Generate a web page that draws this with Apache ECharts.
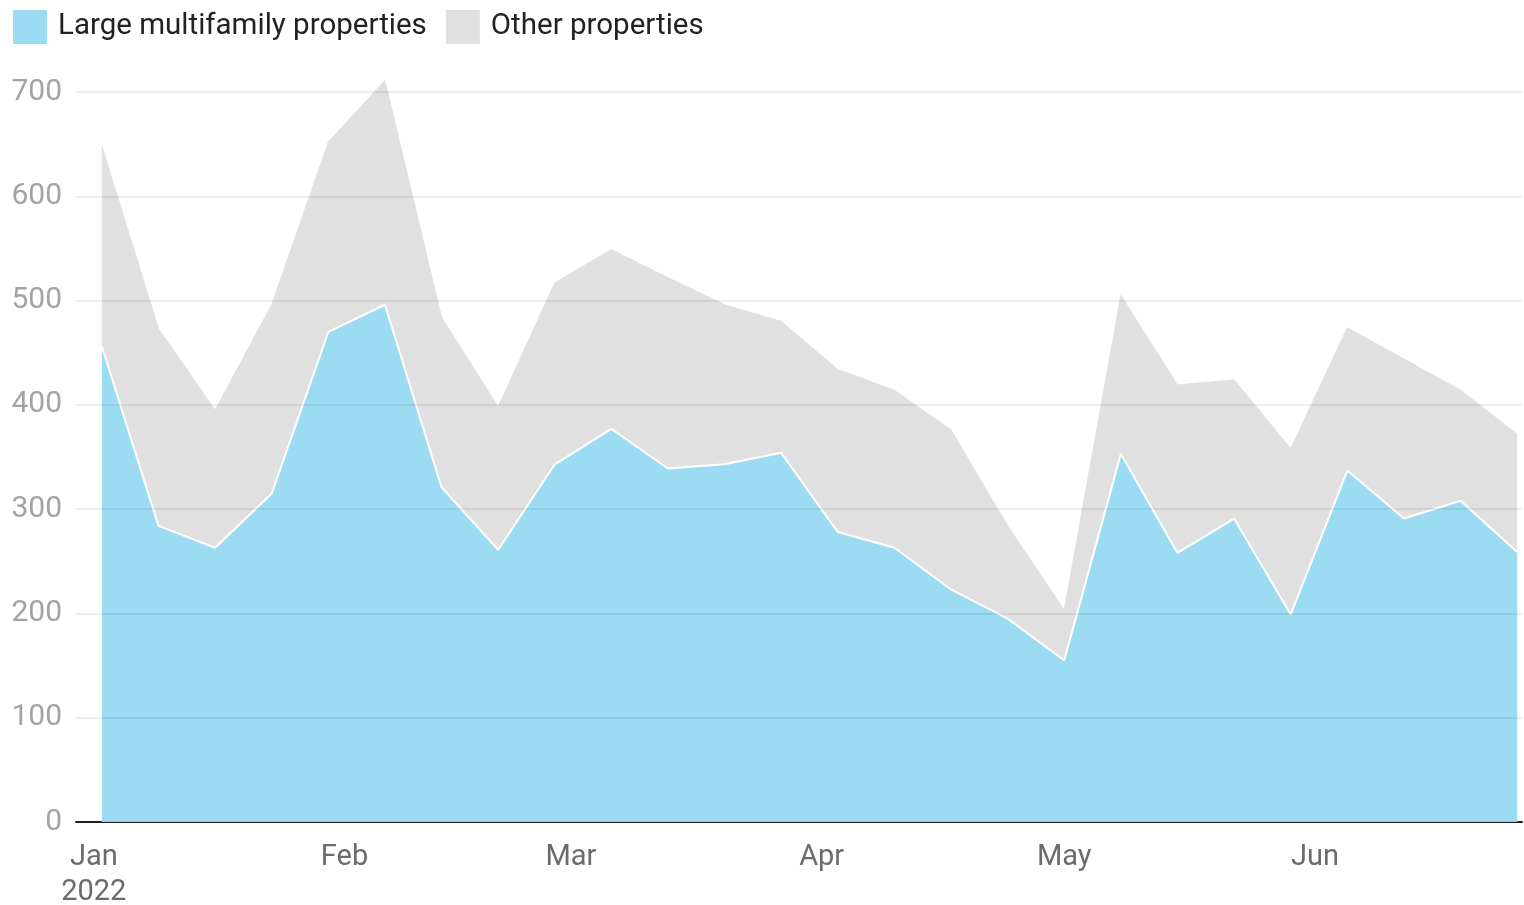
<!DOCTYPE html>
<html lang="en">
<head>
    <meta charset="UTF-8">
    <title>Multifamily properties</title>
    <script src="https://cdn.jsdelivr.net/npm/echarts@6/dist/echarts.min.js"></script>
    <style>
        html, body { margin: 0; padding: 0; background: #fff; }
        #chart { width: 1524px; height: 905px; }
    </style>
</head>
<body>
<div id="chart"></div>
<script>
    // weekly data, Jan - Jun 2022
    var weeks = ['2022-01-02', '2022-01-09', '2022-01-16', '2022-01-23', '2022-01-30',
        '2022-02-06', '2022-02-13', '2022-02-20', '2022-02-27', '2022-03-06',
        '2022-03-13', '2022-03-20', '2022-03-27', '2022-04-03', '2022-04-10',
        '2022-04-17', '2022-04-24', '2022-05-01', '2022-05-08', '2022-05-15',
        '2022-05-22', '2022-05-29', '2022-06-05', '2022-06-12', '2022-06-19', '2022-06-26'];
    var largeMultifamily = [456, 284, 263, 315, 470, 496, 321, 261, 343, 377,
        339, 343, 354, 278, 263, 223, 195, 155, 353, 258,
        291, 199, 337, 291, 308, 259];
    var otherProps = [192, 189, 132, 181, 182, 215, 163, 137, 174, 172,
        183, 153, 126, 156, 151, 153, 89, 48, 152, 161,
        133, 159, 137, 153, 106, 113];
    var monthStarts = ['2022-01-01', '2022-02-01', '2022-03-01', '2022-04-01', '2022-05-01', '2022-06-01'];
    var monthNames = ['Jan', 'Feb', 'Mar', 'Apr', 'May', 'Jun'];
    var yTicks = [0, 100, 200, 300, 400, 500, 600, 700];

    // days since Jan 1 2022
    function dayOf(s) {
        var p = s.split('-');
        return (Date.UTC(+p[0], +p[1] - 1, +p[2]) - Date.UTC(2022, 0, 1)) / 86400000;
    }
    var monthDays = monthStarts.map(dayOf);

    // stacked by hand: grey area goes from 0 to the total, blue sits on top of it
    var blueData = largeMultifamily.map(function (v, i) { return [dayOf(weeks[i]), v]; });
    var totalData = otherProps.map(function (v, i) { return [dayOf(weeks[i]), v + largeMultifamily[i]]; });

    var myChart = echarts.init(document.getElementById('chart'));
    var option = {
        animation: false,
        textStyle: { fontFamily: 'Roboto' },
        legend: {
            left: 13,
            top: 10,
            padding: 0,
            itemWidth: 34,
            itemHeight: 34,
            itemGap: 19,
            icon: 'rect',
            textStyle: { fontSize: 29.5, color: '#222', padding: [0, 0, 0, 6] },
            data: ['Large multifamily properties', 'Other properties']
        },
        grid: { left: 76, right: 2, top: 92, bottom: 83, outerBoundsMode: 'none' },
        xAxis: {
            type: 'value',
            min: -2.2,
            max: 176.6,
            splitLine: { show: false },
            axisTick: { show: false },
            axisLine: { lineStyle: { color: '#222', width: 2 } },
            axisLabel: {
                customValues: monthDays,
                fontSize: 29,
                lineHeight: 35,
                color: '#6b6b6b',
                margin: 18,
                formatter: function (v) {
                    var i = monthDays.indexOf(v);
                    return monthNames[i] + (i === 0 ? '\n2022' : '');
                }
            }
        },
        yAxis: {
            type: 'value',
            min: yTicks[0],
            max: yTicks[yTicks.length - 1],
            interval: 100,
            z: 5,
            axisLine: { show: false },
            axisTick: { show: false },
            axisLabel: { fontSize: 30, color: '#a3a3a3', margin: 14 },
            splitLine: { lineStyle: { color: 'rgba(0,0,0,0.07)', width: 2 } }
        },
        series: [
            {
                name: 'Large multifamily properties',
                type: 'line',
                symbol: 'none',
                clip: false,
                z: 3,
                color: '#9bdcf2',
                lineStyle: { color: '#fff', width: 2 },
                areaStyle: { color: '#9bdcf2', opacity: 1 },
                data: blueData
            },
            {
                name: 'Other properties',
                type: 'line',
                symbol: 'none',
                clip: false,
                z: 2,
                color: '#e0e0e0',
                lineStyle: { color: '#e0e0e0', width: 1 },
                areaStyle: { color: '#e0e0e0', opacity: 1 },
                data: totalData
            }
        ]
    };
    myChart.setOption(option);
</script>
</body>
</html>
